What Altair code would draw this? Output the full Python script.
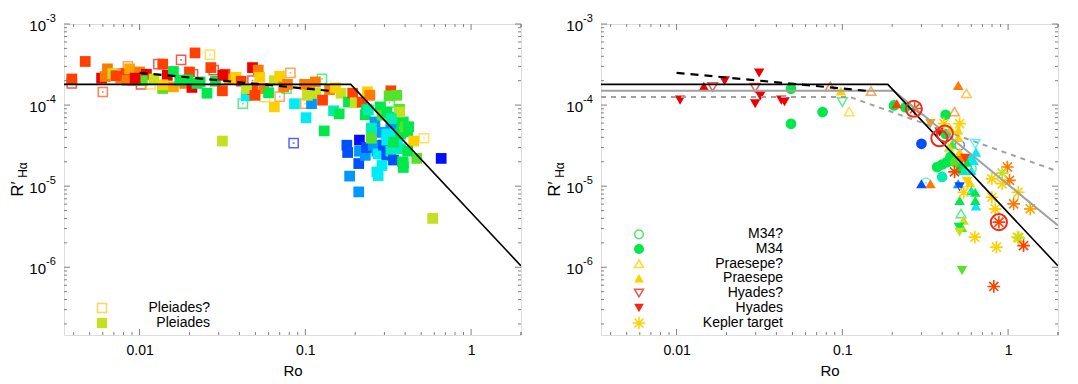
import altair as alt
import pandas as pd

# ---------------- colour index palette (rainbow, red -> blue) ----------------
PALETTE = ["#ee0000", "#ff4000", "#ff7a00", "#ffa500", "#ffd000", "#c5e01e",
           "#55e22a", "#00e84a", "#00efb0", "#00ecf5", "#0098ff", "#0050ff", "#0010ff"]
CI = list(range(len(PALETTE)))

# ---------------- LEFT PANEL: Pleiades ----------------
PL_RO = [0.0039, 0.0047, 0.0059, 0.0062, 0.0064, 0.0069, 0.0077, 0.0083, 0.0087, 0.0091,
         0.0100, 0.0110, 0.0104, 0.0122, 0.0138, 0.0138, 0.0147, 0.0160, 0.0160, 0.0187,
         0.0200, 0.0207, 0.0216, 0.0232, 0.0255, 0.0269, 0.0287, 0.0316, 0.0328, 0.0347,
         0.0382, 0.041, 0.044, 0.048, 0.052, 0.053, 0.048, 0.056, 0.060, 0.065,
         0.065, 0.070, 0.074, 0.078, 0.086, 0.099, 0.101, 0.109, 0.106, 0.115,
         0.103, 0.116, 0.127, 0.130, 0.140, 0.148, 0.160, 0.164, 0.152, 0.182,
         0.193, 0.200, 0.220, 0.237, 0.245, 0.230, 0.234, 0.240, 0.263, 0.250,
         0.283, 0.290, 0.311, 0.328, 0.320, 0.356, 0.370, 0.370, 0.390, 0.400,
         0.414, 0.342, 0.450, 0.470, 0.586, 0.660, 0.0316, 0.212, 0.178, 0.180,
         0.210, 0.185, 0.210, 0.212, 0.230, 0.234, 0.257, 0.250, 0.270, 0.275,
         0.290, 0.296, 0.310, 0.310, 0.328, 0.340, 0.360, 0.376, 0.386, 0.390,
         0.414, 0.290, 0.270, 0.275, 0.328, 0.350, 0.376, 0.400, 0.420, 0.350,
         0.370, 0.330, 0.310, 0.340, 0.0084, 0.0094, 0.0138, 0.0442, 0.0496, 0.0318,
         0.0175, 0.0195, 0.0222, 0.0072]
PL_R = [2.1e-4, 3.45e-4, 2.15e-4, 2.25e-4, 2.8e-4, 2.45e-4, 2.15e-4, 2.45e-4, 2.8e-4, 2.0e-4,
        2.56e-4, 2.4e-4, 2.0e-4, 2.1e-4, 3.2e-4, 1.6e-4, 2.33e-4, 2.6e-4, 1.68e-4, 1.85e-4,
        2.56e-4, 1.65e-4, 4.4e-4, 1.93e-4, 1.4e-4, 2.9e-4, 1.97e-4, 1.5e-4, 2.4e-4, 2.1e-4,
        2.2e-4, 1.97e-4, 1.3e-4, 2.9e-4, 2.7e-4, 2.2e-4, 1.55e-4, 1.6e-4, 1.42e-4, 9.5e-5,
        2.0e-4, 2.27e-4, 1.68e-4, 1.8e-4, 1.04e-4, 1.8e-4, 7.0e-5, 1.04e-4, 1.55e-4, 1.93e-4,
        1.32e-4, 1.4e-4, 1.15e-4, 4.8e-5, 1.55e-4, 8.5e-5, 7.8e-5, 1.4e-4, 1.63e-4, 1.09e-4,
        1.4e-4, 1.07e-4, 1.09e-4, 1.46e-4, 1.32e-4, 7.6e-5, 8.9e-5, 8.7e-5, 6.2e-5, 5.2e-5,
        9.5e-5, 7.5e-5, 8.2e-5, 1.5e-4, 1.3e-4, 1.32e-4, 8.9e-5, 6.8e-5, 6.2e-5, 5.3e-5,
        4.7e-5, 5.6e-5, 3.6e-5, 2.2e-5, 4.0e-6, 2.2e-5, 3.6e-5, 3.7e-5, 3.2e-5, 2.6e-5,
        1.9e-5, 1.33e-5, 8.5e-6, 2.7e-5, 2.4e-5, 3.0e-5, 3.2e-5, 3.9e-5, 2.7e-5, 2.5e-5,
        4.6e-5, 3.2e-5, 3.7e-5, 2.4e-5, 2.7e-5, 2.1e-5, 3.2e-5, 2.9e-5, 2.0e-5, 1.7e-5,
        2.7e-5, 1.8e-5, 1.5e-5, 1.35e-5, 5.1e-5, 4.3e-5, 4.4e-5, 5.4e-5, 5.4e-5, 7.1e-5,
        8.2e-5, 6.8e-5, 4.4e-5, 3.5e-5, 2.02e-4, 2.15e-4, 1.78e-4, 1.6e-4, 1.32e-4, 2.33e-4,
        2.0e-4, 2.05e-4, 1.85e-4, 2.3e-4]
PL_C = [1, 1, 0, 2, 2, 5, 2, 1, 3, 2,
        2, 0, 6, 5, 1, 6, 0, 7, 3, 2,
        1, 0, 1, 7, 7, 1, 7, 1, 1, 3,
        4, 1, 9, 0, 2, 4, 1, 2, 7, 4,
        5, 4, 2, 2, 9, 2, 9, 10, 2, 2,
        5, 5, 1, 7, 2, 8, 7, 5, 4, 7,
        1, 5, 1, 4, 2, 7, 7, 8, 10, 8,
        7, 6, 7, 1, 6, 6, 6, 5, 7, 7,
        7, 7, 4, 6, 5, 12, 5, 12, 11, 11,
        11, 10, 10, 10, 10, 11, 10, 6, 10, 9,
        10, 11, 9, 11, 8, 11, 9, 8, 7, 7,
        7, 9, 9, 9, 10, 9, 7, 6, 7, 7,
        5, 8, 9, 7, 2, 0, 4, 5, 1, 0,
        7, 7, 7, 1]

# Pleiades? (uncertain members, open squares)
PLQ_RO = [0.0039, 0.0060, 0.0077, 0.0085, 0.0102, 0.0116, 0.0130, 0.0178, 0.0178, 0.0210,
          0.0266, 0.0280, 0.042, 0.048, 0.057, 0.070, 0.0813, 0.077, 0.085, 0.126,
          0.100, 0.322, 0.52, 0.285, 0.394]
PLQ_R = [1.85e-4, 1.45e-4, 2.45e-4, 3.0e-4, 1.8e-4, 1.8e-4, 3.2e-4, 3.6e-4, 2.0e-4, 2.4e-4,
         4.2e-4, 2.7e-4, 1.04e-4, 2.0e-4, 1.25e-4, 1.27e-4, 2.5e-4, 1.6e-4, 3.4e-5, 2.1e-4,
         1.04e-4, 1.07e-4, 3.9e-5, 3.8e-5, 1.94e-5]
PLQ_C = [0, 1, 0, 2, 0, 4, 0, 0, 0, 0,
         4, 0, 7, 0, 5, 2, 2, 7, 12, 7,
         2, 7, 4, 9, 7]

# ---------------- RIGHT PANEL ----------------
M34Q_RO = [0.32, 0.51, 0.60]
M34Q_R = [1.1e-5, 3.2e-5, 1.65e-5]
M34Q_C = [9, 11, 7]

M34_RO = [0.049, 0.076, 0.049, 0.205, 0.24, 0.42, 0.30, 0.373, 0.40, 0.40,
          0.428, 0.45, 0.42, 0.48, 0.52]
M34_R = [1.59e-4, 8.2e-5, 5.88e-5, 9.9e-5, 9.4e-5, 7.6e-5, 3.33e-5, 1.72e-5, 1.85e-5, 1.3e-5,
         1.98e-5, 2.3e-5, 4.4e-5, 1.98e-5, 1.6e-5]
M34_C = [7, 7, 7, 7, 7, 7, 11, 7, 7, 8,
         7, 7, 7, 6, 7]

PRQ_RO = [0.0845, 0.149, 0.11, 0.56, 0.475, 0.52]
PRQ_R = [1.7e-4, 1.49e-4, 8.35e-5, 1.4e-4, 8.3e-5, 4.6e-6]
PRQ_C = [1, 2, 4, 3, 2, 7]

PR_RO = [0.0146, 0.098, 0.213, 0.50, 0.30, 0.34, 0.45, 0.50, 0.50, 0.46,
         0.64, 0.59, 0.62, 0.515, 0.54, 0.60, 0.59, 0.50, 0.60, 0.634,
         0.64, 0.634, 0.51, 0.54, 0.527, 0.51, 0.565, 0.44]
PR_R = [1.7e-4, 1.49e-4, 1.04e-4, 1.75e-4, 1.07e-5, 1.07e-5, 5.1e-5, 4.9e-5, 4.0e-5, 3.3e-5,
        2.63e-5, 2.3e-5, 2.07e-5, 1.8e-5, 1.56e-5, 1.56e-5, 1.1e-5, 1.07e-5, 8.8e-6, 8.4e-6,
        5.7e-6, 6.65e-6, 6.65e-6, 3.8e-6, 3.1e-6, 2.63e-5, 1.98e-5, 3.03e-5]
PR_C = [0, 4, 1, 2, 11, 2, 4, 4, 4, 6,
        9, 9, 9, 7, 8, 9, 4, 10, 8, 7,
        9, 7, 7, 5, 6, 4, 7, 5]

HYQ_RO = [0.0165, 0.0298, 0.10, 0.634]
HYQ_R = [1.67e-4, 1.64e-4, 1.09e-4, 3.33e-5]
HYQ_C = [0, 0, 7, 9]

HY_RO = [0.0105, 0.0195, 0.0315, 0.0298, 0.032, 0.0428, 0.0448, 0.34, 0.386, 0.527,
         0.565, 0.51, 0.505, 0.51, 0.527, 0.55]
HY_R = [1.15e-4, 1.99e-4, 2.49e-4, 1.04e-4, 1.3e-4, 1.15e-4, 1.1e-4, 5.9e-5, 4.65e-5, 2.07e-5,
        1.15e-5, 9.8e-6, 3.1e-6, 2.7e-6, 9.1e-7, 2.2e-5]
HY_C = [0, 0, 0, 0, 0, 0, 0, 3, 0, 2,
        4, 11, 7, 5, 6, 1]

KEP_RO = [0.51, 0.41, 0.475, 0.54, 0.63, 0.798, 0.99, 1.02, 1.15, 1.08,
          0.836, 1.36, 0.798, 0.92, 0.92, 0.88, 0.85, 1.14, 1.16, 1.24,
          0.82, 0.273]
KEP_R = [5.9e-5, 5.9e-5, 1.5e-5, 8.4e-6, 2.35e-6, 1.23e-5, 1.72e-5, 1.18e-5, 8.4e-6, 6.05e-6,
         5.25e-6, 5.25e-6, 7.3e-6, 1.45e-5, 1.07e-5, 3.6e-6, 1.77e-6, 2.35e-6, 2.3e-6, 1.85e-6,
         5.8e-7, 9.06e-5]
KEP_C = [4, 4, 1, 4, 4, 4, 2, 2, 4, 2,
         4, 3, 4, 5, 4, 1, 4, 4, 5, 1,
         1, 1]

# highlighted (red circled) stars
HI_RO = [0.27, 0.385, 0.415, 0.88]
HI_R = [9.0e-5, 3.9e-5, 4.45e-5, 3.6e-6]

# ---------------- model lines ----------------
BLACK_RO = [0.0035, 0.188, 2.0]
BLACK_R = [1.8e-4, 1.8e-4, 1.04e-6]
BDASH_RO = [0.01, 0.15]
BDASH_R = [2.5e-4, 1.48e-4]
GRAY_RO = [0.0035, 0.204, 2.0]
GRAY_R = [1.5e-4, 1.5e-4, 3.27e-6]
GDASH_RO = [0.0035, 0.111, 2.0]
GDASH_R = [1.26e-4, 1.26e-4, 1.52e-5]

# ---------------- axes ----------------
X_DOMAIN = [0.0035, 2.0]
Y_DOMAIN = [1.46e-7, 1e-3]
X_LABELS = [0.01, 0.1, 1]
Y_LABELS = [1e-3, 1e-4, 1e-5, 1e-6]
Y_EXP = ["-3", "-4", "-5", "-6"]

W, H = 457, 311
FONT = "Liberation Sans"
ASTER = "M-1,0L1,0M0,-1L0,1M-0.72,-0.72L0.72,0.72M-0.72,0.72L0.72,-0.72"

xscale = alt.Scale(type="log", domain=X_DOMAIN, nice=False)
yscale = alt.Scale(type="log", domain=Y_DOMAIN, nice=False)
cscale = alt.Scale(domain=CI, range=PALETTE)
xaxis = alt.Axis(values=X_LABELS, format="~g", ticks=False, domain=False, grid=False,
                 labelFontSize=14, labelPadding=8, labelColor="black", labelFont=FONT,
                 title="Ro", titleFontSize=15, titleFontWeight="normal", titleColor="black",
                 titleFont=FONT, titlePadding=6)


def X(field):
    return alt.X(f"{field}:Q", scale=xscale, axis=xaxis)


def Y(field):
    return alt.Y(f"{field}:Q", scale=yscale, axis=None)


def df(ro, r, c=None):
    d = {"ro": ro, "r": r}
    if c is not None:
        d["c"] = c
    return pd.DataFrame(d)


def points(data, shape, filled, size=90, sw=1.5, dot=False):
    if filled:
        mk = alt.Chart(data).mark_point(shape=shape, filled=True, size=size, opacity=1, strokeWidth=0)
    else:
        mk = alt.Chart(data).mark_point(shape=shape, filled=False, size=size, strokeWidth=sw, opacity=0.65)
    layers = [mk.encode(x=X("ro"), y=Y("r"), color=alt.Color("c:O", scale=cscale, legend=None))]
    if dot:
        layers.append(alt.Chart(data).mark_point(shape="square", filled=True, size=3, opacity=0.6).encode(
            x=X("ro"), y=Y("r"), color=alt.Color("c:O", scale=cscale, legend=None)))
    return layers


def line(ro, r, color, width, dash=None):
    kw = dict(color=color, strokeWidth=width, clip=True)
    if dash:
        kw["strokeDash"] = dash
    return alt.Chart(df(ro, r)).mark_line(**kw).encode(x=X("ro"), y=Y("r"))


def frame_ticks():
    xt_major, xt_minor, yt_major, yt_minor = [], [], [], []
    for e in range(-3, 1):
        for m in range(1, 10):
            v = m * 10.0 ** e
            if X_DOMAIN[0] <= v <= X_DOMAIN[1]:
                (xt_major if m == 1 else xt_minor).append(v)
    for e in range(-7, -2):
        for m in range(1, 10):
            v = m * 10.0 ** e
            if Y_DOMAIN[0] <= v <= Y_DOMAIN[1] * 1.0001:
                (yt_major if m == 1 else yt_minor).append(v)
    xt_minor.append(2.0)
    out = []
    tc = "#808080"
    for vals, ln in ((xt_major, 6), (xt_minor, 3)):
        d = pd.DataFrame({"v": vals})
        out.append(alt.Chart(d).mark_rule(color=tc, strokeWidth=1).encode(
            x=X("v"), y=alt.value(H), y2=alt.value(H - ln)))
        out.append(alt.Chart(d).mark_rule(color=tc, strokeWidth=1).encode(
            x=X("v"), y=alt.value(0), y2=alt.value(ln)))
    for vals, ln in ((yt_major, 6), (yt_minor, 3)):
        d = pd.DataFrame({"v": vals})
        out.append(alt.Chart(d).mark_rule(color=tc, strokeWidth=1).encode(
            y=Y("v"), x=alt.value(0), x2=alt.value(ln)))
        out.append(alt.Chart(d).mark_rule(color=tc, strokeWidth=1).encode(
            y=Y("v"), x=alt.value(W), x2=alt.value(W - ln)))
    return out


def y_labels():
    d = pd.DataFrame({"v": Y_LABELS, "base": ["10"] * 4, "e": Y_EXP})
    a = alt.Chart(d).mark_text(align="right", baseline="middle", fontSize=15, font=FONT,
                               color="black", dy=2).encode(
        x=alt.value(-18), y=Y("v"), text="base:N")
    b = alt.Chart(d).mark_text(align="left", baseline="middle", fontSize=11, font=FONT,
                               color="black", dy=-5).encode(
        x=alt.value(-18), y=Y("v"), text="e:N")
    t1 = alt.Chart(pd.DataFrame({"t": ["R\u2032"]})).mark_text(
        angle=270, align="center", baseline="middle", fontSize=17, font=FONT, color="black").encode(
        x=alt.value(-46), y=alt.value(165), text="t:N")
    t2 = alt.Chart(pd.DataFrame({"t": ["H\u03b1"]})).mark_text(
        angle=270, align="center", baseline="middle", fontSize=12, font=FONT, color="black").encode(
        x=alt.value(-41), y=alt.value(146), text="t:N")
    return [a, b, t1, t2]


def legend_row(label, ypos, text_x, shape, color, filled, size=90, sw=1.5, opacity=1.0):
    d = pd.DataFrame({"label": [label]})
    if filled:
        m = alt.Chart(d).mark_point(shape=shape, filled=True, size=size, color=color, opacity=1, strokeWidth=0)
    else:
        m = alt.Chart(d).mark_point(shape=shape, filled=False, size=size, color=color, strokeWidth=sw,
                                    opacity=opacity)
    m = m.encode(x=alt.value(38), y=alt.value(ypos))
    t = alt.Chart(d).mark_text(align="right", baseline="middle", fontSize=14, font=FONT, color="black").encode(
        x=alt.value(text_x), y=alt.value(ypos), text="label:N")
    return [m, t]


# ---------------- left panel ----------------
left_layers = []
left_layers += points(df(PLQ_RO, PLQ_R, PLQ_C), "square", False, size=85, dot=True)
left_layers += points(df(PL_RO, PL_R, PL_C), "square", True, size=115)
left_layers += [line(BLACK_RO, BLACK_R, "black", 1.6), line(BDASH_RO, BDASH_R, "black", 2.2, [8, 6])]
left_layers += frame_ticks()
left_layers += y_labels()
left_layers += legend_row("Pleiades?", 284, 146, "square", "#ffc830", False, size=80, opacity=0.8)
left_layers += legend_row("Pleiades", 299, 146, "square", "#c5e01e", True, size=105)
left = alt.layer(*left_layers).properties(width=W, height=H)

# ---------------- right panel ----------------
right_layers = []
right_layers += points(df(M34Q_RO, M34Q_R, M34Q_C), "circle", False, size=90, dot=True)
right_layers += points(df(M34_RO, M34_R, M34_C), "circle", True, size=115)
right_layers += points(df(PRQ_RO, PRQ_R, PRQ_C), "triangle-up", False, size=95)
right_layers += points(df(PR_RO, PR_R, PR_C), "triangle-up", True, size=110)
right_layers += points(df(HYQ_RO, HYQ_R, HYQ_C), "triangle-down", False, size=95)
right_layers += points(df(HY_RO, HY_R, HY_C), "triangle-down", True, size=110)
right_layers += [alt.Chart(df(KEP_RO, KEP_R, KEP_C)).mark_point(shape=ASTER, filled=False, size=160,
                                                                 strokeWidth=1.6, opacity=1).encode(
    x=X("ro"), y=Y("r"), color=alt.Color("c:O", scale=cscale, legend=None))]
right_layers += [line(GDASH_RO, GDASH_R, "#a0a0a0", 2, [5, 5]), line(GRAY_RO, GRAY_R, "#a0a0a0", 2),
                 line(BLACK_RO, BLACK_R, "black", 1.6), line(BDASH_RO, BDASH_R, "black", 2.2, [8, 6])]
right_layers += [alt.Chart(df(HI_RO, HI_R)).mark_point(shape="circle", filled=False, size=260,
                                                       strokeWidth=2, color="#ee2a1a", opacity=1).encode(
    x=X("ro"), y=Y("r"))]
right_layers += frame_ticks()
right_layers += y_labels()
rows = [210.3, 225, 239.7, 254.3, 269, 284, 299]
right_layers += legend_row("M34?", rows[0], 182, "circle", "#22e040", False, size=75, opacity=0.8)
right_layers += legend_row("M34", rows[1], 182, "circle", "#00e84a", True, size=100)
right_layers += legend_row("Praesepe?", rows[2], 182, "triangle-up", "#ffd000", False, size=80, opacity=0.8)
right_layers += legend_row("Praesepe", rows[3], 182, "triangle-up", "#ffd000", True, size=95)
right_layers += legend_row("Hyades?", rows[4], 182, "triangle-down", "#ee2a1a", False, size=80, opacity=0.8)
right_layers += legend_row("Hyades", rows[5], 182, "triangle-down", "#ee2a1a", True, size=95)
right_layers += legend_row("Kepler target", rows[6], 182, ASTER, "#ffd000", False, size=160, opacity=1)
right = alt.layer(*right_layers).properties(width=W, height=H)

chart = alt.hconcat(left, right, spacing=23).properties(
    padding={"left": 0, "top": 4, "right": 0, "bottom": 0}
).configure_view(stroke="#404040", strokeWidth=1.5).configure(font=FONT)

chart.save("out.html", embed_options={"renderer": "svg", "actions": False})
